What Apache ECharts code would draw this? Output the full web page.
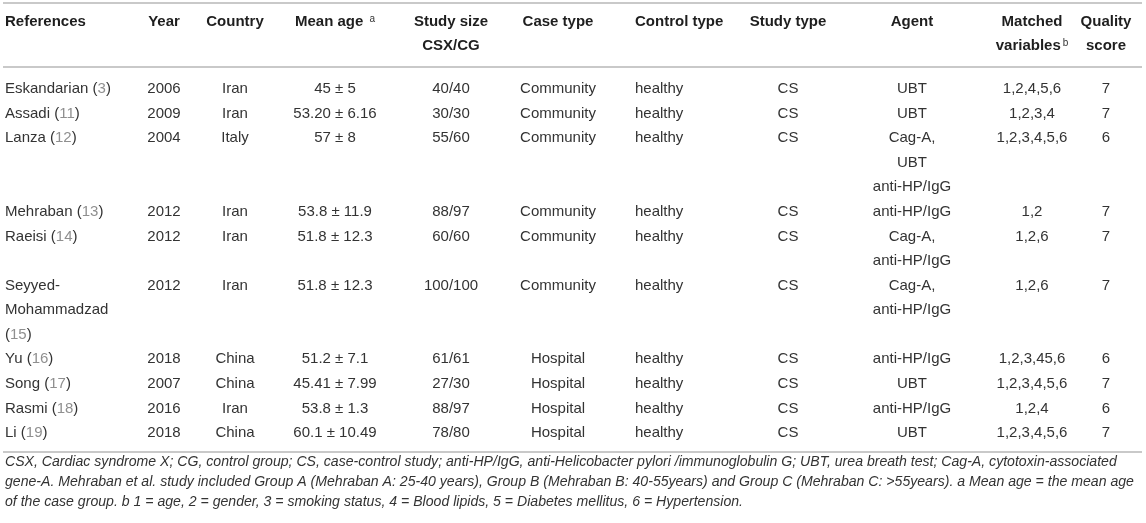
<!DOCTYPE html>
<html>
<head>
<meta charset="utf-8" />
<title>Study characteristics</title>
<script src="https://cdn.jsdelivr.net/npm/echarts@6/dist/echarts.min.js"></script>
<style>
  html, body { margin: 0; padding: 0; background: #fff; }
  #main { width: 1146px; height: 523px; }
</style>
</head>
<body>
<div id="main"></div>
<script type="text/javascript">
// table data, one array per column
var headers = ['References', 'Year', 'Country', 'Mean age {sup|a}', 'Study size\nCSX/CG', 'Case type',
  'Control type', 'Study type', 'Agent', 'Matched\nvariables{sup|b}', 'Quality\nscore'];
var refNames = ['Eskandarian', 'Assadi', 'Lanza', 'Mehraban', 'Raeisi', 'Seyyed-\nMohammadzad\n',
  'Yu', 'Song', 'Rasmi', 'Li'];
var refCites = [3, 11, 12, 13, 14, 15, 16, 17, 18, 19];
var years = ['2006', '2009', '2004', '2012', '2012', '2012', '2018', '2007', '2016', '2018'];
var countries = ['Iran', 'Iran', 'Italy', 'Iran', 'Iran', 'Iran', 'China', 'China', 'Iran', 'China'];
var meanAge = ['45 ± 5', '53.20 ± 6.16', '57 ± 8', '53.8 ± 11.9', '51.8 ± 12.3', '51.8 ± 12.3',
  '51.2 ± 7.1', '45.41 ± 7.99', '53.8 ± 1.3', '60.1 ± 10.49'];
var studySize = ['40/40', '30/30', '55/60', '88/97', '60/60', '100/100', '61/61', '27/30', '88/97', '78/80'];
var caseType = ['Community', 'Community', 'Community', 'Community', 'Community', 'Community',
  'Hospital', 'Hospital', 'Hospital', 'Hospital'];
var controlType = ['healthy', 'healthy', 'healthy', 'healthy', 'healthy', 'healthy',
  'healthy', 'healthy', 'healthy', 'healthy'];
var studyType = ['CS', 'CS', 'CS', 'CS', 'CS', 'CS', 'CS', 'CS', 'CS', 'CS'];
var agents = ['UBT', 'UBT', 'Cag-A,\nUBT\nanti-HP/IgG', 'anti-HP/IgG', 'Cag-A,\nanti-HP/IgG',
  'Cag-A,\nanti-HP/IgG', 'anti-HP/IgG', 'UBT', 'anti-HP/IgG', 'UBT'];
var matched = ['1,2,4,5,6', '1,2,3,4', '1,2,3,4,5,6', '1,2', '1,2,6', '1,2,6',
  '1,2,3,45,6', '1,2,3,4,5,6', '1,2,4', '1,2,3,4,5,6'];
var quality = ['7', '7', '6', '7', '7', '7', '6', '7', '6', '7'];
var footnote = [
  'CSX, Cardiac syndrome X; CG, control group; CS, case-control study; anti-HP/IgG, anti-Helicobacter pylori /immunoglobulin G; UBT, urea breath test; Cag-A, cytotoxin-associated',
  'gene-A. Mehraban et al. study included Group A (Mehraban A: 25-40 years), Group B (Mehraban B: 40-55years) and Group C (Mehraban C: >55years). a Mean age = the mean age',
  'of the case group. b 1 = age, 2 = gender, 3 = smoking status, 4 = Blood lipids, 5 = Diabetes mellitus, 6 = Hypertension.'
];

// layout
var colX = [5, 164, 235, 335, 451, 558, 635, 788, 912, 1032, 1106];
var colAlign = ['left', 'center', 'center', 'center', 'center', 'center', 'left', 'center', 'center', 'center', 'center'];
var W = 1146, H = 523;
var LINE_PX = 24.57, FIRST_Y = 89;
var HEAD_LINE = -2.75;
var RULES = [-3.5, -0.9, 14.77];
var FONT = '"Liberation Sans", Arial, sans-serif';

// build cell list (one item per text line)
var cells = [];
function pushText(list, col, line, txt) {
  var parts = String(txt).split('\n');
  for (var j = 0; j < parts.length; j++) {
    list.push({ value: [colX[col], line + j], text: parts[j], col: col });
  }
  return parts.length;
}
var line = 0;
for (var i = 0; i < refNames.length; i++) {
  var nm = refNames[i];
  var ref = (nm.charAt(nm.length - 1) == '\n' ? nm : nm + ' ') + '({c|' + refCites[i] + '})';
  var row = [ref, years[i], countries[i], meanAge[i], studySize[i], caseType[i],
    controlType[i], studyType[i], agents[i], matched[i], quality[i]];
  var n = 1;
  for (var c = 0; c < row.length; c++) {
    n = Math.max(n, pushText(cells, c, line, row[c]));
  }
  line += n;
}
var heads = [];
for (var h = 0; h < headers.length; h++) {
  pushText(heads, h, HEAD_LINE, headers[h]);
}

function textRenderer(list, bold) {
  return function (params, api) {
    var d = list[params.dataIndex];
    var pt = api.coord([api.value(0), api.value(1)]);
    return {
      type: 'text',
      x: pt[0],
      y: pt[1],
      style: {
        text: d.text,
        align: colAlign[d.col],
        verticalAlign: 'middle',
        fontFamily: FONT,
        fontSize: 15,
        fontWeight: bold ? 'bold' : 'normal',
        fill: bold ? '#1e1e1e' : '#333333',
        rich: {
          c: { fontFamily: FONT, fontSize: 15, fill: '#8f8f8f' },
          sup: { fontFamily: FONT, fontSize: 10, fontWeight: 'normal', fill: '#333333', verticalAlign: 'top', padding: [0, 0, 0, 2] }
        }
      }
    };
  };
}

var yMin = -FIRST_Y / LINE_PX;
var yMax = yMin + H / LINE_PX;

var myChart = echarts.init(document.getElementById('main'));
var option = {
  animation: false,
  backgroundColor: '#ffffff',
  grid: { left: 0, right: 0, top: 0, bottom: 0 },
  xAxis: { type: 'value', min: 0, max: W, show: false },
  yAxis: { type: 'value', min: yMin, max: yMax, inverse: true, show: false },
  graphic: [{
    type: 'text',
    left: 5,
    top: 452,
    style: {
      text: footnote.join('\n'),
      font: 'italic 14.1px ' + FONT,
      fill: '#333333',
      lineHeight: 20
    }
  }],
  series: [{
    // horizontal rules
    type: 'custom',
    silent: true,
    data: RULES.map(function (v) { return [0, v]; }),
    renderItem: function (params, api) {
      var a = api.coord([3, api.value(1)]);
      var b = api.coord([1142, api.value(1)]);
      return {
        type: 'line',
        shape: { x1: a[0], y1: a[1], x2: b[0], y2: b[1] },
        style: { stroke: '#c9c9c9', lineWidth: 2 }
      };
    }
  }, {
    type: 'custom',
    silent: true,
    data: heads.map(function (d) { return d.value; }),
    renderItem: textRenderer(heads, true)
  }, {
    type: 'custom',
    silent: true,
    data: cells.map(function (d) { return d.value; }),
    renderItem: textRenderer(cells, false)
  }]
};
myChart.setOption(option);
</script>
</body>
</html>
